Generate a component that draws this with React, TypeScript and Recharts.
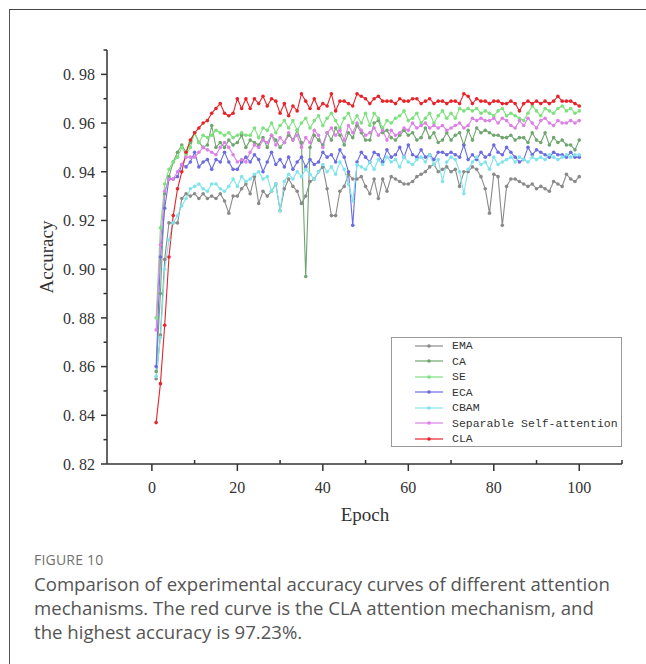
import React from 'react';
import { LineChart, Line, XAxis, YAxis, Legend } from 'recharts';

const epochs = Array.from({ length: 100 }, (_, i) => i + 1);

const ema = [
  0.855, 0.873, 0.904, 0.919, 0.919, 0.919, 0.929, 0.931, 0.930, 0.931,
  0.929, 0.931, 0.929, 0.930, 0.929, 0.931, 0.928, 0.923, 0.930, 0.930,
  0.933, 0.935, 0.931, 0.938, 0.927, 0.932, 0.930, 0.932, 0.935, 0.924,
  0.933, 0.937, 0.934, 0.932, 0.927, 0.930, 0.936, 0.937, 0.940, 0.942,
  0.933, 0.922, 0.922, 0.932, 0.934, 0.939, 0.937, 0.937, 0.938, 0.934,
  0.931, 0.937, 0.929, 0.937, 0.932, 0.938, 0.937, 0.936, 0.935, 0.935,
  0.936, 0.938, 0.939, 0.940, 0.942, 0.943, 0.940, 0.941, 0.942, 0.940,
  0.941, 0.934, 0.940, 0.940, 0.942, 0.941, 0.938, 0.933, 0.923, 0.939,
  0.938, 0.918, 0.934, 0.937, 0.937, 0.936, 0.935, 0.934, 0.935, 0.933,
  0.934, 0.933, 0.932, 0.936, 0.935, 0.934, 0.939, 0.937, 0.936, 0.938,
];

const ca = [
  0.858, 0.890, 0.931, 0.938, 0.944, 0.948, 0.951, 0.948, 0.952, 0.956,
  0.952, 0.950, 0.951, 0.959, 0.950, 0.952, 0.950, 0.953, 0.951, 0.952,
  0.955, 0.950, 0.953, 0.952, 0.951, 0.954, 0.950, 0.955, 0.953, 0.950,
  0.952, 0.955, 0.953, 0.957, 0.952, 0.897, 0.950, 0.955, 0.953, 0.951,
  0.956, 0.953, 0.958, 0.955, 0.951, 0.956, 0.954, 0.959, 0.956, 0.953,
  0.953, 0.960, 0.961, 0.956, 0.957, 0.954, 0.953, 0.955, 0.957, 0.955,
  0.956, 0.953, 0.954, 0.958, 0.954, 0.956, 0.952, 0.953, 0.956, 0.953,
  0.955, 0.956, 0.951, 0.957, 0.953, 0.958, 0.956, 0.957, 0.956, 0.955,
  0.955, 0.954, 0.954, 0.955, 0.953, 0.954, 0.954, 0.952, 0.956, 0.953,
  0.952, 0.956, 0.951, 0.954, 0.952, 0.953, 0.951, 0.951, 0.949, 0.953,
];

const se = [
  0.880, 0.917, 0.935, 0.941, 0.944, 0.946, 0.950, 0.947, 0.950, 0.956,
  0.952, 0.955, 0.954, 0.955, 0.957, 0.956, 0.955, 0.956, 0.954, 0.955,
  0.956, 0.955, 0.955, 0.958, 0.954, 0.958, 0.957, 0.960, 0.956, 0.959,
  0.961, 0.958, 0.961, 0.957, 0.960, 0.962, 0.958, 0.961, 0.963, 0.959,
  0.962, 0.964, 0.961, 0.958, 0.962, 0.964, 0.960, 0.963, 0.960, 0.964,
  0.959, 0.964, 0.962, 0.958, 0.961, 0.960, 0.962, 0.963, 0.965, 0.961,
  0.962, 0.964, 0.960, 0.962, 0.964, 0.960, 0.963, 0.965, 0.962, 0.964,
  0.962, 0.966, 0.965, 0.966, 0.965, 0.966, 0.964, 0.965, 0.964, 0.963,
  0.965, 0.966, 0.963, 0.964, 0.963, 0.962, 0.961, 0.964, 0.967, 0.965,
  0.963, 0.966, 0.965, 0.964, 0.966, 0.967, 0.965, 0.966, 0.964, 0.965,
];

const eca = [
  0.860, 0.905, 0.925, 0.937, 0.937, 0.938, 0.943, 0.942, 0.944, 0.948,
  0.942, 0.944, 0.945, 0.941, 0.945, 0.944, 0.948, 0.944, 0.941, 0.941,
  0.944, 0.946, 0.944, 0.947, 0.945, 0.940, 0.944, 0.948, 0.943, 0.945,
  0.942, 0.946, 0.941, 0.944, 0.946, 0.942, 0.945, 0.943, 0.944, 0.948,
  0.946, 0.947, 0.944, 0.949, 0.946, 0.940, 0.918, 0.944, 0.948, 0.946,
  0.944, 0.948, 0.947, 0.944, 0.949, 0.946, 0.947, 0.950, 0.946, 0.951,
  0.947, 0.946, 0.949, 0.946, 0.947, 0.945, 0.948, 0.948, 0.947, 0.948,
  0.947, 0.946, 0.951, 0.945, 0.947, 0.945, 0.948, 0.946, 0.947, 0.951,
  0.948, 0.947, 0.950, 0.948, 0.946, 0.944, 0.945, 0.950, 0.947, 0.949,
  0.948, 0.947, 0.946, 0.948, 0.947, 0.947, 0.946, 0.948, 0.946, 0.946,
];

const cbam = [
  0.856, 0.872, 0.900, 0.912, 0.919, 0.922, 0.926, 0.929, 0.933, 0.934,
  0.935, 0.933, 0.932, 0.935, 0.935, 0.933, 0.932, 0.934, 0.937, 0.934,
  0.938, 0.936, 0.937, 0.939, 0.940, 0.937, 0.938, 0.932, 0.935, 0.924,
  0.936, 0.939, 0.937, 0.940, 0.938, 0.941, 0.939, 0.937, 0.940, 0.943,
  0.940, 0.942, 0.939, 0.944, 0.941, 0.935, 0.928, 0.943, 0.942, 0.941,
  0.944, 0.941, 0.945, 0.943, 0.946, 0.944, 0.945, 0.942, 0.946, 0.944,
  0.943, 0.945, 0.946, 0.944, 0.947, 0.943, 0.945, 0.936, 0.944, 0.946,
  0.945, 0.940, 0.931, 0.941, 0.944, 0.946, 0.943, 0.944, 0.941, 0.946,
  0.943, 0.944, 0.945, 0.946, 0.944, 0.946, 0.945, 0.944, 0.946, 0.945,
  0.946, 0.945, 0.947, 0.946, 0.945, 0.946, 0.947, 0.946, 0.947, 0.947,
];

const sepSelfAttn = [
  0.875, 0.910, 0.932, 0.937, 0.937, 0.940, 0.943, 0.946, 0.946, 0.946,
  0.948, 0.950, 0.949, 0.948, 0.947, 0.950, 0.952, 0.950, 0.947, 0.944,
  0.945, 0.944, 0.948, 0.951, 0.950, 0.953, 0.952, 0.955, 0.951, 0.954,
  0.952, 0.956, 0.953, 0.955, 0.950, 0.954, 0.952, 0.957, 0.955, 0.950,
  0.956, 0.958, 0.955, 0.957, 0.953, 0.959, 0.956, 0.960, 0.957, 0.955,
  0.956, 0.958, 0.955, 0.957, 0.953, 0.957, 0.955, 0.956, 0.958, 0.957,
  0.960, 0.958, 0.959, 0.960, 0.958, 0.959, 0.958, 0.959, 0.957, 0.958,
  0.959, 0.960, 0.958, 0.959, 0.962, 0.961, 0.962, 0.961, 0.961, 0.962,
  0.960, 0.962, 0.961, 0.959, 0.958, 0.961, 0.959, 0.962, 0.960, 0.958,
  0.961, 0.962, 0.960, 0.959, 0.961, 0.960, 0.960, 0.961, 0.960, 0.961,
];

const cla = [
  0.837, 0.853, 0.877, 0.905, 0.922, 0.933, 0.940, 0.948, 0.953, 0.956,
  0.958, 0.960, 0.961, 0.964, 0.966, 0.968, 0.964, 0.963, 0.964, 0.970,
  0.966, 0.970, 0.966, 0.970, 0.968, 0.971, 0.967, 0.970, 0.969, 0.964,
  0.968, 0.963, 0.967, 0.965, 0.972, 0.969, 0.966, 0.970, 0.966, 0.968,
  0.967, 0.972, 0.965, 0.969, 0.969, 0.968, 0.967, 0.972, 0.971, 0.970,
  0.968, 0.970, 0.971, 0.969, 0.969, 0.969, 0.968, 0.970, 0.969, 0.969,
  0.970, 0.970, 0.968, 0.969, 0.970, 0.968, 0.969, 0.969, 0.968, 0.969,
  0.969, 0.968, 0.972, 0.971, 0.968, 0.970, 0.969, 0.969, 0.968, 0.969,
  0.969, 0.968, 0.968, 0.969, 0.968, 0.965, 0.968, 0.969, 0.968, 0.969,
  0.968, 0.969, 0.968, 0.969, 0.971, 0.969, 0.969, 0.969, 0.968, 0.967,
];

const seriesNames = ['EMA', 'CA', 'SE', 'ECA', 'CBAM', 'Separable Self-attention', 'CLA'];
const seriesKeys = ['ema', 'ca', 'se', 'eca', 'cbam', 'sep', 'cla'];
const seriesColors = ['#8a8a8a', '#6fa56f', '#7ee07e', '#6c6ce0', '#80e4ec', '#dc82e6', '#e8232b'];
const seriesValues = [ema, ca, se, eca, cbam, sepSelfAttn, cla];

const xTicks = [0, 10, 20, 30, 40, 50, 60, 70, 80, 90, 100, 110];
const yTicks = [0.82, 0.83, 0.84, 0.85, 0.86, 0.87, 0.88, 0.89, 0.9, 0.91, 0.92, 0.93, 0.94, 0.95, 0.96, 0.97, 0.98, 0.99];

const chartData = epochs.map((epoch, i) => {
  const row: Record<string, number> = { epoch };
  seriesKeys.forEach((k, s) => { row[k] = seriesValues[s][i]; });
  return row;
});

const serif = '"Liberation Serif", "DejaVu Serif", serif';
const axisColor = '#333';

const YTick = ({ x, y, payload }: any) => {
  const hundredths = Math.round(payload.value * 100);
  const major = hundredths % 2 === 0 && hundredths < 99;
  return (
    <g>
      <line x1={x} x2={x - (major ? 6 : 3.5)} y1={y} y2={y} stroke={axisColor} strokeWidth={1.5} />
      {major && (
        <text x={x - 12} y={y} dy="0.36em" textAnchor="end" fontSize={16} fill="#333" fontFamily={serif}>
          {`0. ${hundredths}`}
        </text>
      )}
    </g>
  );
};

const XTick = ({ x, y, payload }: any) => {
  const v = payload.value;
  const major = v % 20 === 0 && v <= 100;
  return (
    <g>
      <line x1={x} x2={x} y1={y} y2={major ? y + 7 : y - 4} stroke={axisColor} strokeWidth={1.5} />
      {major && (
        <text x={x} y={y + 29} textAnchor="middle" fontSize={16} fill="#333" fontFamily={serif}>
          {v}
        </text>
      )}
    </g>
  );
};

const renderLegend = () => (
  <div
    style={{
      width: 231,
      height: 110,
      boxSizing: 'border-box',
      border: '1px solid #999',
      background: '#fff',
      overflow: 'hidden',
      fontFamily: '"Liberation Mono", monospace',
      fontSize: 11.5,
      color: '#333',
    }}
  >
    {seriesNames.map((name, i) => (
      <div key={name} style={{ height: 15.5, display: 'flex', alignItems: 'center', whiteSpace: 'nowrap' }}>
        <svg width={28} height={8} style={{ marginLeft: 23, marginRight: 9, flex: 'none' }}>
          <line x1={0} x2={28} y1={4} y2={4} stroke={seriesColors[i]} strokeWidth={1.2} />
          <circle cx={14} cy={4} r={1.8} fill={seriesColors[i]} />
        </svg>
        <span>{name}</span>
      </div>
    ))}
  </div>
);

export default function App() {
  return (
    <div style={{ position: 'absolute', left: 0, top: 0, width: 646, height: 664, overflow: 'hidden', background: '#fff' }}>
      <div
        style={{
          position: 'absolute',
          left: 9,
          top: 9,
          width: 700,
          height: 700,
          borderTop: '1.5px solid #444',
          borderLeft: '1.5px solid #555',
        }}
      />
      <div style={{ position: 'absolute', left: 0, top: 0 }}>
        <LineChart width={646} height={540} data={chartData} margin={{ top: 50, right: 24, bottom: 0, left: 0 }}>
          <XAxis
            dataKey="epoch"
            type="number"
            domain={[-10.5, 110]}
            ticks={xTicks}
            interval={0}
            tickSize={0}
            tickMargin={0}
            tick={<XTick />}
            height={76}
            stroke={axisColor}
            strokeWidth={1.5}
            allowDataOverflow
            label={{
              content: () => (
                <text x={365} y={521} textAnchor="middle" fontSize={19} fill="#333" fontFamily={serif}>
                  Epoch
                </text>
              ),
            }}
          />
          <YAxis
            type="number"
            domain={[0.82, 0.99]}
            ticks={yTicks}
            interval={0}
            tickSize={0}
            tickMargin={0}
            tick={<YTick />}
            width={107}
            stroke={axisColor}
            strokeWidth={1.5}
            allowDataOverflow
            label={{
              content: () => (
                <text
                  x={46}
                  y={257}
                  transform="rotate(-90 46 257)"
                  textAnchor="middle"
                  dy="0.35em"
                  fontSize={19}
                  fill="#333"
                  fontFamily={serif}
                >
                  Accuracy
                </text>
              ),
            }}
          />
          <Legend
            layout="vertical"
            align="center"
            verticalAlign="middle"
            content={renderLegend}
            wrapperStyle={{ position: 'absolute', left: 391, top: 337, width: 231, height: 110 }}
          />
          {seriesKeys.map((k, i) => (
            <Line
              key={k}
              dataKey={k}
              name={seriesNames[i]}
              stroke={seriesColors[i]}
              strokeWidth={1.1}
              dot={{ r: 1.8, fill: seriesColors[i], stroke: 'none' }}
              activeDot={false}
              isAnimationActive={false}
            />
          ))}
        </LineChart>
      </div>
      <div
        style={{
          position: 'absolute',
          left: 34,
          top: 550,
          fontFamily: '"Open Sans", "Noto Sans", sans-serif',
          color: '#555',
        }}
      >
        <div style={{ fontSize: 14, color: '#707070', letterSpacing: 0.2, lineHeight: '20px' }}>FIGURE 10</div>
        <div style={{ fontSize: 18.6, lineHeight: '24px', whiteSpace: 'nowrap', marginTop: 2 }}>
          Comparison of experimental accuracy curves of different attention
          <br />
          mechanisms. The red curve is the CLA attention mechanism, and
          <br />
          the highest accuracy is 97.23%.
        </div>
      </div>
    </div>
  );
}
